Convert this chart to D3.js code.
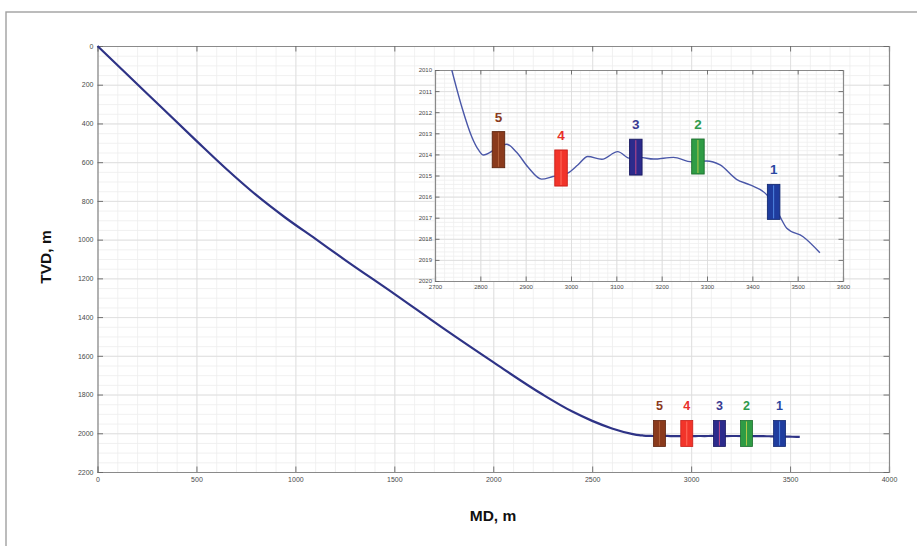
<!DOCTYPE html>
<html><head><meta charset="utf-8">
<script src="https://cdn.jsdelivr.net/npm/d3@7"></script>
<style>
html,body{margin:0;padding:0;background:#fff;}
svg{display:block;font-family:"Liberation Sans",Arial,sans-serif;}
</style></head>
<body>
<svg id="chart" width="917" height="546"></svg>
<script>
// ---------- DATA ----------
// Well profile (MD, TVD) — build section
const profileMD  = [0, 250, 500, 650, 800, 950, 1100, 1250, 1500, 1750, 2000, 2250, 2400, 2500, 2600, 2700];
const profileTVD = [0, 245, 490, 634, 768, 887, 995, 1104, 1280, 1460, 1633, 1800, 1888, 1936, 1975, 2003];
// Horizontal section detail
const detailMD  = [2737, 2759, 2781, 2796, 2807, 2830, 2858, 2880, 2905, 2935, 2960, 2994, 3015, 3037, 3068, 3103, 3130, 3152, 3182, 3226, 3266, 3299, 3329, 3365, 3395, 3432, 3445, 3461, 3476, 3512, 3549];
const detailTVD = [2010.0, 2011.74, 2013.16, 2013.79, 2014.03, 2013.8, 2013.52, 2013.9, 2014.6, 2015.17, 2015.05, 2014.87, 2014.5, 2014.1, 2014.23, 2013.87, 2014.19, 2014.14, 2014.22, 2014.14, 2014.35, 2014.31, 2014.5, 2015.18, 2015.45, 2015.92, 2016.3, 2016.95, 2017.5, 2017.9, 2018.66];
// Markers (intervals)
const markerLabels = ["5", "4", "3", "2", "1"];
const markerMD     = [2840, 2978, 3143, 3280, 3447];
const markerTop    = [2012.92, 2013.79, 2013.28, 2013.27, 2015.42];
const markerBottom = [2014.63, 2015.50, 2014.98, 2014.93, 2017.08];
const markerFill   = ["#8a3a1c", "#f2342a", "#2c2b8c", "#2f9c45", "#1f3c9e"];
const markerStroke = ["#5e240e", "#c81e18", "#1a1a60", "#1d6e2e", "#142a72"];
const markerCore   = ["#b0603a", "#ff6d5e", "#c04a8a", "#b6c84a", "#4f86e0"];
const labelColor   = ["#8a3a1c", "#e8302a", "#3a3a92", "#2f9a4c", "#2a48a2"];
// Axis ticks
const mainXTicks = [0, 500, 1000, 1500, 2000, 2500, 3000, 3500, 4000];
const mainYTicks = [0, 200, 400, 600, 800, 1000, 1200, 1400, 1600, 1800, 2000, 2200];
const insetXTicks = [2700, 2800, 2900, 3000, 3100, 3200, 3300, 3400, 3500, 3600];
const insetYTicks = [2010, 2011, 2012, 2013, 2014, 2015, 2016, 2017, 2018, 2019, 2020];
const xTitle = "MD, m", yTitle = "TVD, m";

// ---------- SETUP ----------
const svg = d3.select("#chart");
const profile = profileMD.map((m, i) => [m, profileTVD[i]]);
const detail = detailMD.map((m, i) => [m, detailTVD[i]]);
const fullPath = profile.concat(detail);
const markers = markerLabels.map((l, i) => ({label: l, md: markerMD[i], top: markerTop[i], bot: markerBottom[i],
  fill: markerFill[i], stroke: markerStroke[i], core: markerCore[i], lc: labelColor[i]}));

// outer frame
svg.append("rect").attr("x", 6).attr("y", 12).attr("width", 1000).attr("height", 700)
  .attr("fill", "none").attr("stroke", "#a0a0a0").attr("stroke-width", 1.4);

// ---------- MAIN PLOT ----------
const x = d3.scaleLinear().domain([0, 4000]).range([97.5, 889]);
const y = d3.scaleLinear().domain([0, 2200]).range([46, 472]);
const L = x.range()[0], R = x.range()[1], T = y.range()[0], B = y.range()[1];

function grid(g, xs, ys, xVals, yVals, color, top, bottom, left, right) {
  g.append("g").attr("transform", `translate(0,${bottom})`)
    .call(d3.axisBottom(xs).tickValues(xVals).tickSize(-(bottom - top)).tickFormat(""))
    .call(a => a.select(".domain").remove())
    .call(a => a.selectAll("line").attr("stroke", color).attr("stroke-width", 0.8));
  g.append("g").attr("transform", `translate(${left},0)`)
    .call(d3.axisLeft(ys).tickValues(yVals).tickSize(-(right - left)).tickFormat(""))
    .call(a => a.select(".domain").remove())
    .call(a => a.selectAll("line").attr("stroke", color).attr("stroke-width", 0.8));
}
const mg = svg.append("g");
grid(mg, x, y, d3.range(0, 4001, 100), d3.range(0, 2201, 50), "#ededed", T, B, L, R);
grid(mg, x, y, mainXTicks, mainYTicks, "#dcdcdc", T, B, L, R);

function frameAxes(g, xs, ys, xVals, yVals, top, bottom, left, right, tick, fs, fmtX, fmtY, labOffX, labOffY) {
  const ax = g.append("g").attr("font-size", fs).attr("color", "#555");
  const bot = ax.append("g").attr("transform", `translate(0,${bottom})`)
    .call(d3.axisBottom(xs).tickValues(xVals).tickSize(-tick).tickPadding(labOffY).tickFormat(fmtX));
  const topA = ax.append("g").attr("transform", `translate(0,${top})`)
    .call(d3.axisTop(xs).tickValues(xVals).tickSize(-tick).tickFormat(""));
  const lef = ax.append("g").attr("transform", `translate(${left},0)`)
    .call(d3.axisLeft(ys).tickValues(yVals).tickSize(-tick).tickPadding(labOffX).tickFormat(fmtY));
  const rig = ax.append("g").attr("transform", `translate(${right},0)`)
    .call(d3.axisRight(ys).tickValues(yVals).tickSize(-tick).tickFormat(""));
  [bot, topA, lef, rig].forEach(a => {
    a.attr("color", "#555");
    a.select(".domain").attr("stroke", "#8a8a8a").attr("stroke-width", 1.2);
    a.selectAll(".tick line").attr("stroke", "#666").attr("stroke-width", 0.9);
    a.selectAll("text").attr("fill", "#4a4a4a").style("fill", "#4a4a4a").attr("font-size", fs)
      .attr("font-family", "'Liberation Sans', Arial, sans-serif");
  });
}
frameAxes(svg.append("g"), x, y, mainXTicks, mainYTicks, T, B, L, R, 5.5, 7, d3.format("d"), d3.format("d"), 4, 5);

// main line
const line = d3.line().x(d => x(d[0])).y(d => y(d[1])).curve(d3.curveMonotoneX);
svg.append("path").datum(fullPath).attr("d", line)
  .attr("fill", "none").attr("stroke", "#2e3386").attr("stroke-width", 2.2);

// main markers
const mmW = 12, mmUp = 15.5, mmDown = 10.5;
const mm = svg.append("g").selectAll("g").data(markers).join("g");
mm.append("rect")
  .attr("x", d => x(d.md) - mmW / 2).attr("y", y(2014) - mmUp)
  .attr("width", mmW).attr("height", mmUp + mmDown)
  .attr("fill", d => d.fill).attr("stroke", d => d.stroke).attr("stroke-width", 0.8);
mm.append("line")
  .attr("x1", d => x(d.md)).attr("x2", d => x(d.md))
  .attr("y1", y(2014) - mmUp + 1).attr("y2", y(2014) + mmDown - 1)
  .attr("stroke", d => d.core).attr("stroke-width", 1);
mm.append("text")
  .attr("x", d => x(d.md)).attr("y", y(2014) - mmUp - 10)
  .attr("text-anchor", "middle").attr("font-size", 12.5).attr("font-weight", "bold")
  .attr("fill", d => d.lc).text(d => d.label);

// titles
svg.append("text").attr("x", 493).attr("y", 521).attr("text-anchor", "middle")
  .attr("font-size", 15.5).attr("font-weight", "bold").attr("fill", "#111").text(xTitle);
svg.append("text").attr("transform", "translate(51,257) rotate(-90)").attr("text-anchor", "middle")
  .attr("font-size", 15.5).attr("font-weight", "bold").attr("fill", "#111").text(yTitle);

// ---------- INSET ----------
const xi = d3.scaleLinear().domain([2700, 3600]).range([435, 843]);
const yi = d3.scaleLinear().domain([2010, 2020]).range([70, 281]);
const iL = 435, iR = 843, iT = 70, iB = 281;
const ig = svg.append("g");
ig.append("rect").attr("x", iL).attr("y", iT).attr("width", iR - iL).attr("height", iB - iT).attr("fill", "#fff");
grid(ig, xi, yi, d3.range(2700, 3601, 20), d3.range(2010, 2020.01, 0.2), "#efefef", iT, iB, iL, iR);
grid(ig, xi, yi, insetXTicks, insetYTicks, "#dadada", iT, iB, iL, iR);
frameAxes(ig.append("g"), xi, yi, insetXTicks, insetYTicks, iT, iB, iL, iR, 4.5, 6, d3.format("d"), d3.format("d"), 3, 4);

svg.append("clipPath").attr("id", "iclip").append("rect")
  .attr("x", iL).attr("y", iT).attr("width", iR - iL).attr("height", iB - iT);
const iline = d3.line().x(d => xi(d[0])).y(d => yi(d[1])).curve(d3.curveMonotoneX);
ig.append("path").datum(detail).attr("d", iline).attr("clip-path", "url(#iclip)")
  .attr("fill", "none").attr("stroke", "#4a57a8").attr("stroke-width", 1.4);

const imW = 12.5;
const im = ig.append("g").selectAll("g").data(markers).join("g");
im.append("rect")
  .attr("x", d => xi(d.md) - imW / 2).attr("y", d => yi(d.top))
  .attr("width", imW).attr("height", d => yi(d.bot) - yi(d.top))
  .attr("fill", d => d.fill).attr("stroke", d => d.stroke).attr("stroke-width", 0.9);
im.append("line")
  .attr("x1", d => xi(d.md)).attr("x2", d => xi(d.md))
  .attr("y1", d => yi(d.top) + 1).attr("y2", d => yi(d.bot) - 1)
  .attr("stroke", d => d.core).attr("stroke-width", 1);
im.append("text")
  .attr("x", d => xi(d.md)).attr("y", d => yi(d.top) - 10)
  .attr("text-anchor", "middle").attr("font-size", 13.5).attr("font-weight", "bold")
  .attr("fill", d => d.lc).text(d => d.label);
</script>
</body></html>
